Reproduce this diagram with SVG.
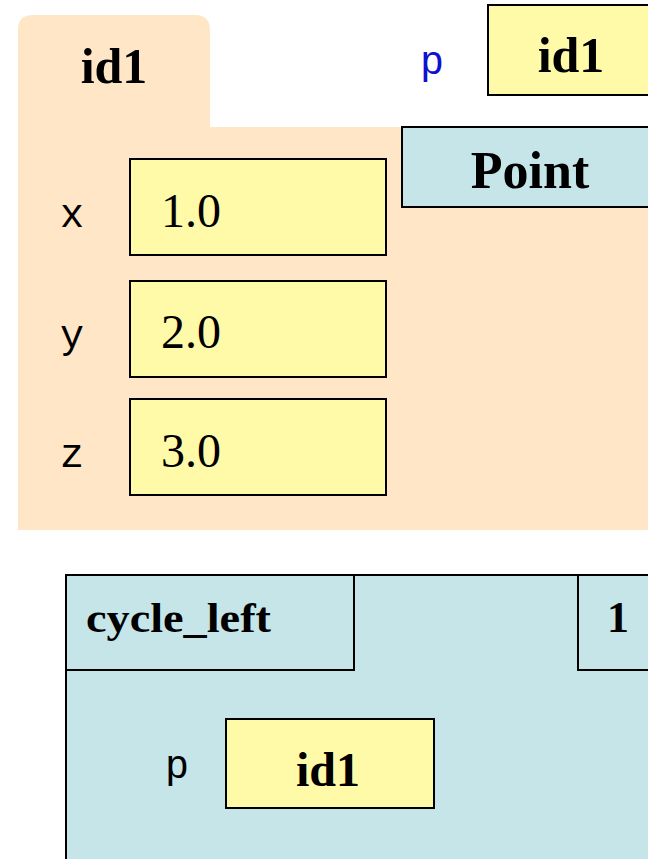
<svg xmlns="http://www.w3.org/2000/svg" width="648" height="859" viewBox="0 0 648 859">
<style>
.box{fill:#fffaa8;stroke:#000;stroke-width:2}
.cls{fill:#c5e5e8;stroke:#000;stroke-width:2}
.bold{font-family:"Liberation Serif",serif;font-weight:bold}
.val{font-family:"Liberation Serif",serif;font-size:48px}
.mono{font-family:"Liberation Mono",monospace;font-size:40px}
</style>
<rect width="648" height="859" fill="#fff"/>
<g id="object_id1">
<path d="M18,127 V30 Q18,15 33,15 H195 Q210,15 210,30 V127 H648 V530 H18 Z" fill="#ffe6c6"/>
<text class="bold" x="114" y="83" font-size="50" text-anchor="middle">id1</text>
</g>
<g id="class_Point">
<rect class="cls" x="402" y="127" width="250" height="80"/>
<text class="bold" x="530" y="188" font-size="52" text-anchor="middle">Point</text>
</g>
<g id="var_p">
<text class="mono" x="432" y="74" fill="#1010d0" font-size="42" text-anchor="middle">p</text>
<rect class="box" x="488" y="5" width="164" height="90"/>
<text class="bold" x="571" y="72" font-size="50" text-anchor="middle">id1</text>
</g>
<g id="field_x">
<text class="mono" x="72" y="227" text-anchor="middle">x</text>
<rect class="box" x="130" y="159" width="256" height="96"/>
<text class="val" x="161" y="227">1.0</text>
</g>
<g id="field_y">
<text class="mono" x="72" y="348" text-anchor="middle">y</text>
<rect class="box" x="130" y="281" width="256" height="96"/>
<text class="val" x="161" y="348">2.0</text>
</g>
<g id="field_z">
<text class="mono" x="72" y="467" text-anchor="middle">z</text>
<rect class="box" x="130" y="399" width="256" height="96"/>
<text class="val" x="161" y="467">3.0</text>
</g>
<g id="frame_cycle_left">
<rect class="cls" x="66" y="575" width="590" height="290"/>
<rect class="cls" x="66" y="575" width="288" height="95"/>
<rect class="cls" x="578" y="575" width="80" height="95"/>
<text class="bold" x="86" y="632" font-size="42" textLength="185" lengthAdjust="spacingAndGlyphs">cycle_left</text>
<text class="bold" x="618" y="632" font-size="44" text-anchor="middle">1</text>
</g>
<g id="frame_var_p">
<text class="mono" x="177" y="778" text-anchor="middle">p</text>
<rect class="box" x="226" y="719" width="208" height="89"/>
<text class="bold" x="328" y="786" font-size="48" text-anchor="middle">id1</text>
</g>
<g id="connectors"></g>
</svg>
